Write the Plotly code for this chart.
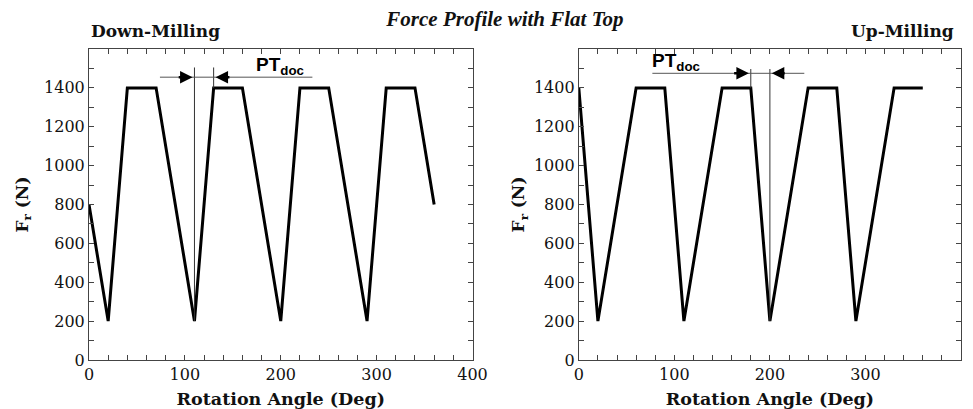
import plotly.graph_objects as go

# ---------------- data ----------------
down_angle = [0, 20, 40, 70, 110, 130, 160, 200, 220, 250, 290, 310, 340, 360]
down_force = [800, 200, 1400, 1400, 200, 1400, 1400, 200, 1400, 1400, 200, 1400, 1400, 800]

up_angle = [0, 20, 60, 90, 110, 150, 180, 200, 240, 270, 290, 330, 360]
up_force = [1400, 200, 1400, 1400, 200, 1400, 1400, 200, 1400, 1400, 200, 1400, 1400]

y_tick_vals = [0, 200, 400, 600, 800, 1000, 1200, 1400]
x_tick_vals = [0, 100, 200, 300, 400]

# PT_doc markers (angle values in degrees, force levels in N)
down_pt = dict(a=110, b=130, a_low=200, b_low=1400, top=1505, line_y=1455,
               line_from=74, line_to=233, tail_a=92, tail_b=148, label_x=199, label_y=1515)
up_pt = dict(a=180, b=200, a_low=1400, b_low=200, top=1497, line_y=1475,
             line_from=77, line_to=236, tail_a=161, tail_b=217, label_x=102, label_y=1533)

# ---------------- figure ----------------
TICK_FONT = dict(family="DejaVu Serif", size=16, color="#111")
XTITLE_FONT = dict(family="DejaVu Serif", size=17.5, color="#111")
YTITLE_FONT = dict(family="DejaVu Serif", size=17, color="#111")
AX_COLOR = "#444"

fig = go.Figure()
fig.add_trace(go.Scatter(x=down_angle, y=down_force, mode="lines",
                         line=dict(color="black", width=3), xaxis="x", yaxis="y",
                         showlegend=False, hoverinfo="skip"))
fig.add_trace(go.Scatter(x=up_angle, y=up_force, mode="lines",
                         line=dict(color="black", width=3), xaxis="x2", yaxis="y2",
                         showlegend=False, hoverinfo="skip"))

def xaxis_cfg(domain, anchor):
    return dict(domain=domain, anchor=anchor, range=[0, 400], tickmode="array",
                tickvals=x_tick_vals, ticks="inside", ticklen=5, tickcolor=AX_COLOR,
                minor=dict(tickmode="array", tickvals=[v for v in range(20, 400, 20) if v % 100],
                           ticks="inside", ticklen=5, tickcolor=AX_COLOR),
                showline=True, linecolor=AX_COLOR, linewidth=1, mirror="ticks",
                showgrid=False, zeroline=False, tickfont=TICK_FONT,
                title=dict(text="<b>Rotation Angle (Deg)</b>", font=XTITLE_FONT, standoff=9),
                automargin=False)

def yaxis_cfg(anchor, standoff):
    return dict(domain=[0, 1], anchor=anchor, range=[0, 1600], tickmode="array",
                tickvals=y_tick_vals, ticks="inside", ticklen=5, tickcolor=AX_COLOR,
                minor=dict(tickmode="array", tickvals=[v for v in range(100, 1600, 200)],
                           ticks="inside", ticklen=5, tickcolor=AX_COLOR),
                showline=True, linecolor=AX_COLOR, linewidth=1, mirror="ticks",
                showgrid=False, zeroline=False, tickfont=TICK_FONT,
                title=dict(text="<b>F<sub>r</sub> (N)</b>", font=YTITLE_FONT, standoff=standoff),
                automargin=False)

left_dom = [0, 0.4398]
right_dom = [0.5617, 1]

# the page body adds an 8px offset, so the figure is 8px smaller on each side
fig.update_layout(
    width=965, height=401,
    margin=dict(l=81, r=12, t=41, b=49),
    paper_bgcolor="white", plot_bgcolor="white",
    xaxis=xaxis_cfg(left_dom, "y"),
    yaxis=yaxis_cfg("x", 11),
    xaxis2=xaxis_cfg(right_dom, "y2"),
    yaxis2=yaxis_cfg("x2", 4),
    title=dict(text="<b><i>Force Profile with Flat Top</i></b>",
               font=dict(family="Liberation Serif", size=21, color="#111"),
               x=0.515, xanchor="center", y=1 - 11 / 401, yanchor="middle", yref="container",
               pad=dict(t=0, b=0, l=0, r=0)),
)

shapes = []
annotations = []
for pt, xr, yr in [(down_pt, "x", "y"), (up_pt, "x2", "y2")]:
    line = dict(color="#333", width=1)
    shapes.append(dict(type="line", xref=xr, yref=yr, x0=pt["a"], x1=pt["a"],
                       y0=pt["a_low"], y1=pt["top"], line=line))
    shapes.append(dict(type="line", xref=xr, yref=yr, x0=pt["b"], x1=pt["b"],
                       y0=pt["b_low"], y1=pt["top"], line=line))
    shapes.append(dict(type="line", xref=xr, yref=yr, x0=pt["line_from"], x1=pt["line_to"],
                       y0=pt["line_y"], y1=pt["line_y"], line=dict(color="#555", width=1)))
    annotations.append(dict(xref=xr, yref=yr, axref=xr, ayref=yr, x=pt["a"] - 2, y=pt["line_y"],
                            ax=pt["tail_a"], ay=pt["line_y"], text="", showarrow=True,
                            arrowhead=2, arrowsize=1, arrowwidth=2.5, arrowcolor="black", standoff=0))
    annotations.append(dict(xref=xr, yref=yr, axref=xr, ayref=yr, x=pt["b"] + 2, y=pt["line_y"],
                            ax=pt["tail_b"], ay=pt["line_y"], text="", showarrow=True,
                            arrowhead=2, arrowsize=1, arrowwidth=2.5, arrowcolor="black", standoff=0))
    annotations.append(dict(xref=xr, yref=yr, x=pt["label_x"], y=pt["label_y"],
                            text="<b>PT<sub>doc</sub></b>", showarrow=False,
                            font=dict(family="Liberation Sans", size=19, color="black")))

annotations.append(dict(xref="paper", yref="paper", x=0.0, y=1.059, xanchor="left", yanchor="middle",
                        text="<b>Down-Milling</b>", showarrow=False,
                        font=dict(family="DejaVu Serif", size=17, color="#111")))
annotations.append(dict(xref="paper", yref="paper", x=0.9942, y=1.059, xanchor="right", yanchor="middle",
                        text="<b>Up-Milling</b>", showarrow=False,
                        font=dict(family="DejaVu Serif", size=17, color="#111")))

fig.update_layout(shapes=shapes, annotations=annotations)
fig.write_html("out.html")
